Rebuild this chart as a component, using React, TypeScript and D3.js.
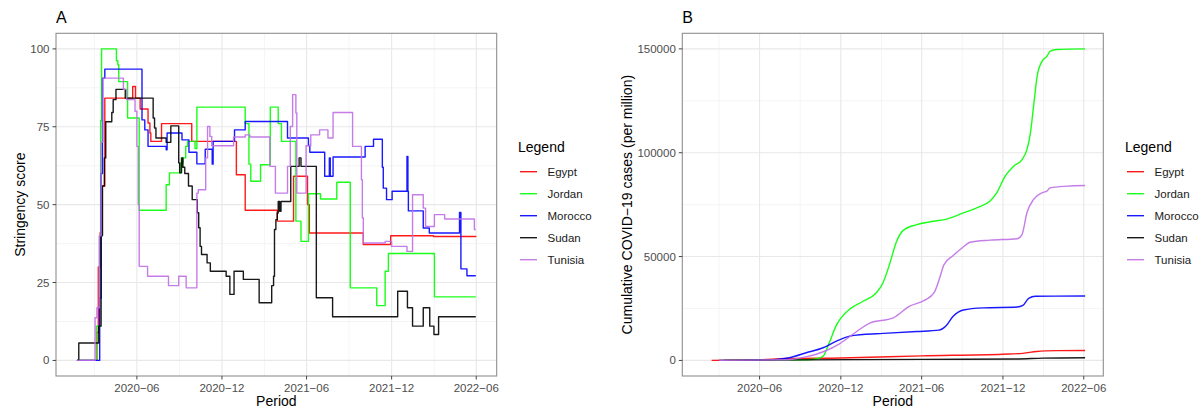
import React from 'react';
import * as d3 from 'd3';

type Pt = [string, number];

// countries in drawing order (last one sits on top)
const countries = ['Egypt', 'Jordan', 'Morocco', 'Sudan', 'Tunisia'];
const colors = ['#ff0000', '#00ff00', '#0000ff', '#000000', '#bf6fe6'];

const xTickDates = ['2020-06-01', '2020-12-01', '2021-06-01', '2021-12-01', '2022-06-01'];
const stringencyTicks = [0, 25, 50, 75, 100];
const casesTicks = [0, 50000, 100000, 150000];

// panel A: stringency index, change points (step after)
const egyptStringency: Pt[] = [
    ['2020-01-24', 0], ['2020-03-07', 9], ['2020-03-10', 30], ['2020-03-14', 41], ['2020-03-18', 56],
    ['2020-03-24', 84.2], ['2020-05-23', 87.9], ['2020-05-29', 84.2], ['2020-06-08', 80.7], ['2020-06-25', 76.2],
    ['2020-06-29', 73], ['2020-07-01', 70.3], ['2020-07-24', 76], ['2020-09-27', 70.3], ['2021-01-01', 59.6],
    ['2021-01-20', 48.2], ['2021-03-30', 44.7], ['2021-05-04', 59.1], ['2021-06-03', 50], ['2021-06-07', 40.9],
    ['2021-10-01', 37.2], ['2021-11-29', 40], ['2022-03-01', 39.8], ['2022-05-31', 39.6],
];
const jordanStringency: Pt[] = [
    ['2020-01-24', 0], ['2020-03-06', 11], ['2020-03-13', 40], ['2020-03-15', 77], ['2020-03-17', 100],
    ['2020-04-18', 96.2], ['2020-04-21', 94.9], ['2020-04-23', 89.5], ['2020-05-12', 77.8], ['2020-06-06', 48.2],
    ['2020-08-03', 56.4], ['2020-08-10', 60.2], ['2020-09-03', 63.4], ['2020-09-08', 65], ['2020-09-14', 68.7],
    ['2020-09-18', 70.3], ['2020-10-04', 68], ['2020-10-08', 81.3], ['2021-01-20', 76], ['2021-01-28', 63],
    ['2021-02-01', 57.5], ['2021-02-22', 62.8], ['2021-03-15', 81.3], ['2021-04-01', 76], ['2021-04-08', 70.3],
    ['2021-05-09', 44.7], ['2021-05-20', 38.2], ['2021-06-05', 53.5], ['2021-07-01', 51.8], ['2021-08-05', 57.2],
    ['2021-09-03', 23.3], ['2021-10-30', 17.6], ['2021-11-17', 28.6], ['2021-11-24', 34.3], ['2022-03-03', 20.4],
    ['2022-05-31', 20.4],
];
const moroccoStringency: Pt[] = [
    ['2020-01-24', 0], ['2020-03-13', 20], ['2020-03-16', 60], ['2020-03-19', 90.6], ['2020-03-24', 93.5],
    ['2020-06-12', 77.2], ['2020-06-18', 74], ['2020-06-25', 68.7], ['2020-08-03', 67.6], ['2020-08-05', 73],
    ['2020-09-06', 70.8], ['2020-09-21', 66.8], ['2020-10-08', 63.1], ['2020-10-26', 67.8], ['2020-11-10', 63],
    ['2020-11-12', 70.3], ['2020-12-28', 74], ['2021-01-20', 76.7], ['2021-04-21', 71.4], ['2021-06-05', 69],
    ['2021-06-08', 66.8], ['2021-07-10', 59.1], ['2021-07-20', 65], ['2021-07-22', 59.1], ['2021-07-28', 65.3],
    ['2021-10-05', 68.7], ['2021-10-23', 71], ['2021-11-11', 62], ['2021-11-13', 55.3], ['2021-11-20', 51.6],
    ['2021-12-02', 54.3], ['2022-01-03', 65.5], ['2022-01-05', 54.3], ['2022-01-06', 48], ['2022-02-07', 42.5],
    ['2022-02-20', 40.9], ['2022-04-26', 47.5], ['2022-04-29', 29.4], ['2022-05-12', 27.2], ['2022-05-31', 27.2],
];
const sudanStringency: Pt[] = [
    ['2020-01-24', 0], ['2020-01-28', 5.6], ['2020-03-11', 11], ['2020-03-16', 40], ['2020-03-19', 56],
    ['2020-03-23', 65], ['2020-03-26', 76.6], ['2020-04-08', 79.6], ['2020-04-11', 83.7], ['2020-04-17', 87],
    ['2020-05-07', 84.2], ['2020-07-06', 77.8], ['2020-07-09', 74.6], ['2020-07-12', 71.4], ['2020-08-03', 70],
    ['2020-08-13', 75.3], ['2020-08-30', 63.4], ['2020-09-01', 60.2], ['2020-09-05', 65], ['2020-09-08', 62],
    ['2020-09-12', 60], ['2020-09-20', 56], ['2020-09-28', 51.6], ['2020-10-09', 47.4], ['2020-10-12', 42.6],
    ['2020-10-15', 36.6], ['2020-10-18', 34], ['2020-10-30', 31.3], ['2020-11-06', 28.6], ['2020-12-10', 27],
    ['2020-12-18', 21.2], ['2020-12-27', 28.6], ['2021-01-16', 26], ['2021-02-19', 18.5], ['2021-03-18', 24],
    ['2021-03-22', 27], ['2021-03-24', 42], ['2021-03-27', 45.2], ['2021-03-30', 47.3], ['2021-04-01', 51],
    ['2021-04-04', 47.9], ['2021-04-07', 51], ['2021-04-28', 62.3], ['2021-05-16', 65], ['2021-05-20', 62.3],
    ['2021-06-22', 20.1], ['2021-07-27', 14], ['2021-12-14', 22.2], ['2022-01-04', 16.9], ['2022-01-15', 11],
    ['2022-02-07', 16.9], ['2022-02-21', 11], ['2022-03-02', 8.3], ['2022-03-12', 14], ['2022-05-31', 14],
];
const tunisiaStringency: Pt[] = [
    ['2020-01-24', 0], ['2020-03-03', 13.7], ['2020-03-07', 16.9], ['2020-03-12', 40], ['2020-03-16', 70],
    ['2020-03-20', 90.6], ['2020-05-03', 87], ['2020-05-10', 83.7], ['2020-05-28', 80], ['2020-06-01', 68.7],
    ['2020-06-04', 50], ['2020-06-06', 30.2], ['2020-06-24', 27], ['2020-08-08', 24], ['2020-08-30', 27],
    ['2020-09-15', 23.3], ['2020-10-08', 53.7], ['2020-10-11', 54.8], ['2020-10-27', 65], ['2020-10-31', 75.1],
    ['2020-11-05', 71.9], ['2020-11-09', 68.9], ['2020-12-26', 71.7], ['2021-01-20', 72.4], ['2021-01-30', 71.7],
    ['2021-03-14', 62.3], ['2021-03-26', 53.7], ['2021-04-21', 62.3], ['2021-04-27', 75.1], ['2021-05-02', 85.3],
    ['2021-05-09', 79.4], ['2021-05-11', 53.7], ['2021-05-31', 68.9], ['2021-06-10', 72.4], ['2021-06-29', 74],
    ['2021-07-17', 71.4], ['2021-07-28', 79.6], ['2021-09-08', 68.7], ['2021-09-27', 58], ['2021-09-29', 45.8],
    ['2021-10-01', 37.7], ['2021-11-17', 38.2], ['2021-12-01', 36.6], ['2022-01-03', 35], ['2022-01-15', 53.2],
    ['2022-02-07', 48.9], ['2022-02-12', 43], ['2022-03-03', 46.8], ['2022-03-25', 45.4], ['2022-05-28', 42],
    ['2022-05-31', 42],
];

// panel B: cumulative cases per million
const egyptCases: Pt[] = [
    ['2020-02-14', 0], ['2020-06-01', 300], ['2020-08-01', 900], ['2020-12-01', 1200], ['2021-06-01', 2200],
    ['2021-12-01', 3000], ['2022-01-15', 3400], ['2022-02-15', 4300], ['2022-04-01', 4700], ['2022-06-04', 4800],
];
const jordanCases: Pt[] = [
    ['2020-03-02', 0], ['2020-09-15', 300], ['2020-10-08', 800], ['2020-10-22', 2000], ['2020-11-05', 8500],
    ['2020-11-20', 16500], ['2020-12-20', 24500], ['2021-01-20', 28500], ['2021-02-19', 32600], ['2021-03-06', 37400],
    ['2021-03-21', 46500], ['2021-04-05', 57000], ['2021-04-20', 62500], ['2021-05-21', 65400], ['2021-06-27', 67000],
    ['2021-07-27', 68000], ['2021-09-03', 71000], ['2021-10-03', 73500], ['2021-11-02', 76700], ['2021-11-17', 80700],
    ['2021-12-06', 88700], ['2021-12-25', 93500], ['2022-01-13', 96700], ['2022-01-24', 101500], ['2022-02-01', 109600],
    ['2022-02-08', 122400], ['2022-02-16', 136800], ['2022-02-27', 144000], ['2022-03-10', 146400], ['2022-03-17', 148800],
    ['2022-04-01', 149700], ['2022-06-04', 150000],
];
const moroccoCases: Pt[] = [
    ['2020-03-02', 0], ['2020-06-15', 250], ['2020-07-15', 600], ['2020-08-07', 1300], ['2020-09-14', 3700],
    ['2020-10-22', 6100], ['2020-11-21', 9300], ['2020-12-21', 11700], ['2021-01-20', 12500], ['2021-03-06', 13000],
    ['2021-05-21', 13900], ['2021-07-10', 14600], ['2021-07-25', 16500], ['2021-08-11', 21300], ['2021-09-03', 24300],
    ['2021-10-18', 25300], ['2022-01-02', 25700], ['2022-01-15', 26500], ['2022-01-28', 29900], ['2022-02-12', 30900],
    ['2022-06-04', 31000],
];
const sudanCases: Pt[] = [
    ['2020-03-13', 0], ['2020-09-01', 250], ['2021-06-01', 500], ['2022-01-01', 700], ['2022-03-01', 1100],
    ['2022-06-04', 1300],
];
const tunisiaCases: Pt[] = [
    ['2020-03-02', 0], ['2020-08-01', 300], ['2020-09-15', 1800], ['2020-10-24', 4300], ['2020-11-28', 8000],
    ['2021-01-05', 13800], ['2021-02-04', 18000], ['2021-03-29', 20500], ['2021-05-04', 26000], ['2021-06-08', 29000],
    ['2021-06-29', 32600], ['2021-07-12', 40000], ['2021-07-21', 46000], ['2021-08-11', 50500], ['2021-09-02', 54500],
    ['2021-09-18', 56900], ['2021-11-02', 57900], ['2022-01-02', 58600], ['2022-01-13', 60600], ['2022-01-24', 71100],
    ['2022-02-08', 77500], ['2022-02-27', 80700], ['2022-03-10', 81500], ['2022-03-17', 83100], ['2022-04-24', 83900],
    ['2022-06-04', 84200],
];

const stringencySeries = [egyptStringency, jordanStringency, moroccoStringency, sudanStringency, tunisiaStringency];
const casesSeries = [egyptCases, jordanCases, moroccoCases, sudanCases, tunisiaCases];

const parse = d3.utcParse('%Y-%m-%d');
const xDomain = [parse('2019-12-10')!, parse('2022-07-15')!];
const FONT = '"Liberation Sans", Arial, Helvetica, sans-serif';
const TOP = 33.3;
const BOTTOM = 376;

const fmtDate = (d: Date) => d3.utcFormat('%Y-%m')(d).replace('-', '\u2212');

function Panel({ title, left, right, yDomain, yTicks, series, curve, yLabel, yLabelX, legendX }: any) {
    const x = d3.scaleUtc().domain(xDomain).range([left, right]);
    const y = d3.scaleLinear().domain(yDomain).range([BOTTOM, TOP]);

    const majorX = xTickDates.map(s => parse(s)!.getTime());
    const step = majorX[1] - majorX[0];
    const minorX = [majorX[0] - step / 2, ...majorX.map(v => v + step / 2)]
        .filter(v => v > xDomain[0].getTime() && v < xDomain[1].getTime());
    const ystep = yTicks[1] - yTicks[0];
    const minorY = [...yTicks.map((v: number) => v + ystep / 2)].filter(v => v < yDomain[1]);

    const line = d3.line<Pt>()
        .x(d => x(parse(d[0])!))
        .y(d => y(d[1]))
        .curve(curve);

    return (
        <g>
            <text x={left} y={23} fontSize={16} fontFamily={FONT}>{title}</text>
            {minorY.map((v: number) => (
                <line key={'my' + v} x1={left} x2={right} y1={y(v)} y2={y(v)} stroke="#f3f3f3" strokeWidth={0.8} />
            ))}
            {minorX.map(v => (
                <line key={'mx' + v} x1={x(v)} x2={x(v)} y1={TOP} y2={BOTTOM} stroke="#f3f3f3" strokeWidth={0.8} />
            ))}
            {yTicks.map((v: number) => (
                <line key={'gy' + v} x1={left} x2={right} y1={y(v)} y2={y(v)} stroke="#e8e8e8" strokeWidth={1.1} />
            ))}
            {majorX.map(v => (
                <line key={'gx' + v} x1={x(v)} x2={x(v)} y1={TOP} y2={BOTTOM} stroke="#e8e8e8" strokeWidth={1.1} />
            ))}
            {series.map((s: Pt[], i: number) => (
                <path key={countries[i]} d={line(s) || ''} fill="none" stroke={colors[i]}
                    strokeWidth={1.4} strokeOpacity={0.9} strokeLinejoin="round" />
            ))}
            <rect x={left} y={TOP} width={right - left} height={BOTTOM - TOP} fill="none" stroke="#8f8f8f" strokeWidth={1.1} />
            {yTicks.map((v: number) => (
                <g key={'ty' + v}>
                    <line x1={left - 3.5} x2={left} y1={y(v)} y2={y(v)} stroke="#444" strokeWidth={1} />
                    <text x={left - 6.5} y={y(v)} dy="0.35em" textAnchor="end" fontSize={11.5}
                        fill="#4d4d4d" fontFamily={FONT}>{v}</text>
                </g>
            ))}
            {majorX.map(v => (
                <g key={'tx' + v}>
                    <line x1={x(v)} x2={x(v)} y1={BOTTOM} y2={BOTTOM + 3.5} stroke="#444" strokeWidth={1} />
                    <text x={x(v)} y={391.5} textAnchor="middle" fontSize={11.5} fill="#4d4d4d"
                        fontFamily={FONT}>{fmtDate(new Date(v))}</text>
                </g>
            ))}
            <text x={(left + right) / 2} y={406} textAnchor="middle" fontSize={14} fontFamily={FONT}>Period</text>
            <text transform={`translate(${yLabelX},${(TOP + BOTTOM) / 2}) rotate(-90)`} textAnchor="middle"
                dy="0.35em" fontSize={14} fontFamily={FONT}>{yLabel}</text>
            <text x={legendX} y={151.7} fontSize={14} fontFamily={FONT}>Legend</text>
            {countries.map((c, i) => (
                <g key={'lg' + c}>
                    <line x1={legendX + 2} x2={legendX + 19} y1={171.7 + i * 22} y2={171.7 + i * 22}
                        stroke={colors[i]} strokeWidth={1.4} strokeOpacity={0.9} />
                    <text x={legendX + 29.5} y={171.7 + i * 22} dy="0.35em" fontSize={11.5}
                        fill="#1a1a1a" fontFamily={FONT}>{c}</text>
                </g>
            ))}
        </g>
    );
}

export default function App() {
    return (
        <svg width={1201} height={408} style={{ position: 'absolute', left: 0, top: 0, background: '#fff' }}>
            <rect width={1201} height={408} fill="#fff" />
            <Panel title="A" left={56} right={496.7} yDomain={[-5, 105]} yTicks={stringencyTicks}
                series={stringencySeries} curve={d3.curveStepAfter} yLabel="Stringency score" yLabelX={20}
                legendX={518} />
            <Panel title="B" left={682.3} right={1103.3} yDomain={[-7500, 157500]} yTicks={casesTicks}
                series={casesSeries} curve={d3.curveMonotoneX}
                yLabel={'Cumulative COVID\u221219 cases (per million)'} yLabelX={627.5} legendX={1125} />
        </svg>
    );
}
